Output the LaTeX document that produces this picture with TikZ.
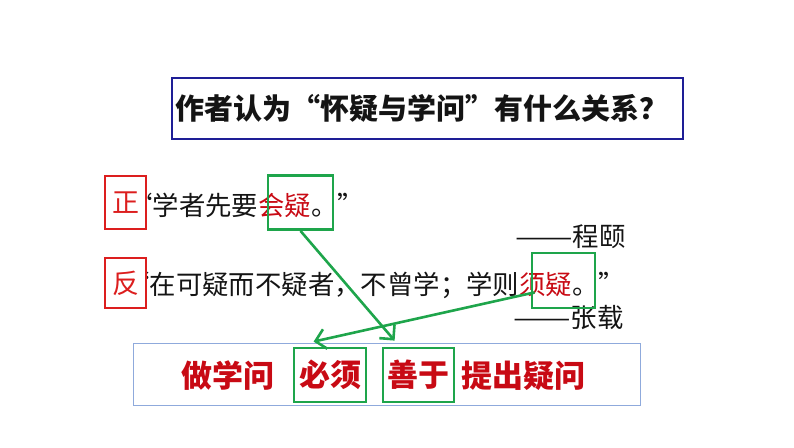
\documentclass[tikz,border=0pt]{standalone}
\usepackage{fontspec}
\setmainfont{Noto Sans CJK SC}
\usetikzlibrary{calc, arrows.meta}
\definecolor{titleblue}{RGB}{30,30,150}
\definecolor{markred}{RGB}{220,30,30}
\definecolor{wordred}{RGB}{200,10,20}
\definecolor{linkgreen}{RGB}{30,165,75}
\definecolor{framegray}{RGB}{143,170,220}
\definecolor{inkblack}{RGB}{20,20,20}
\newcommand{\longdash}{\scalebox{1.3}[1]{——}}
\tikzset{%
    title box/.style={%
        draw=titleblue,
        line width=2.4pt,
        inner xsep=3pt,
        inner ysep=0pt,
        minimum height=61pt,
        text=inkblack,
        font=\fontsize{29}{29}\selectfont\bfseries
    },
    mark box/.style={%
        draw=markred,
        fill=white,
        line width=1.8pt,
        minimum width=41pt,
        text=markred,
        font=\fontsize{27}{27}\selectfont
    },
    quote line/.style={%
        anchor=west,
        inner sep=0pt,
        text=inkblack,
        font=\fontsize{26.4}{26.4}\selectfont
    },
    key box/.style={%
        draw=linkgreen,
        line width=2.8pt,
        inner sep=0pt,
        minimum height=54pt
    },
    answer/.style={%
        inner sep=0pt,
        text=wordred,
        font=\fontsize{31}{31}\selectfont\bfseries
    },
    link/.style={%
        draw=linkgreen,
        line width=2.6pt,
        -{Straight Barb[length=10pt, width=20pt]}
    }%
}

\begin{document}
\begin{tikzpicture}[x=1pt, y=-1pt]
\useasboundingbox (0,0) rectangle (794,447);

\node[title box] (title) at (427.5,108.5)
    {\makebox[505pt][l]{作者认为“怀疑与学问”有什么关系？}};

% the two sayings
\node[quote line] (zheng line) at (126,205) {“学者先要\textcolor{wordred}{会疑}。”};
\node[quote line] (fan line) at (123,285) {“在可疑而不疑者，不曾学；学则\textcolor{wordred}{须疑}。”};
\node[mark box, minimum height=53pt] (zheng) at (125.5,202.5) {正};
\node[mark box, minimum height=50pt] (fan) at (125.5,283) {反};
\node[quote line] (cheng) at (515,237) {\longdash 程颐};
\node[quote line] (zhang) at (513,318) {\longdash 张载};

% the answer
\node[draw=framegray, line width=0.8pt, minimum width=507pt, minimum height=62pt] (frame) at (386.5,374) {};
\node[answer, anchor=west] (xuewen) at (181,376) {做学问};
\node[answer, key box, minimum width=72pt] (bixu) at (330,375) {必须};
\node[answer, key box, minimum width=71pt] (shanyu) at (418.5,375) {善于};
\node[answer, anchor=west] (tichu) at (461,376) {提出疑问};

\node[key box, minimum width=65pt] (huiyi) at (300.5,202.5) {};
\node[key box, minimum width=63pt, minimum height=55pt] (xuyi) at (563.5,280.5) {};

\draw[link] (huiyi.south) -- ($(shanyu.north west)+(13,-6)$);
\draw[link] ($(xuyi.south west)+(4,-17)$) -- ($(bixu.north west)+(21,-5)$);
\end{tikzpicture}
\end{document}
